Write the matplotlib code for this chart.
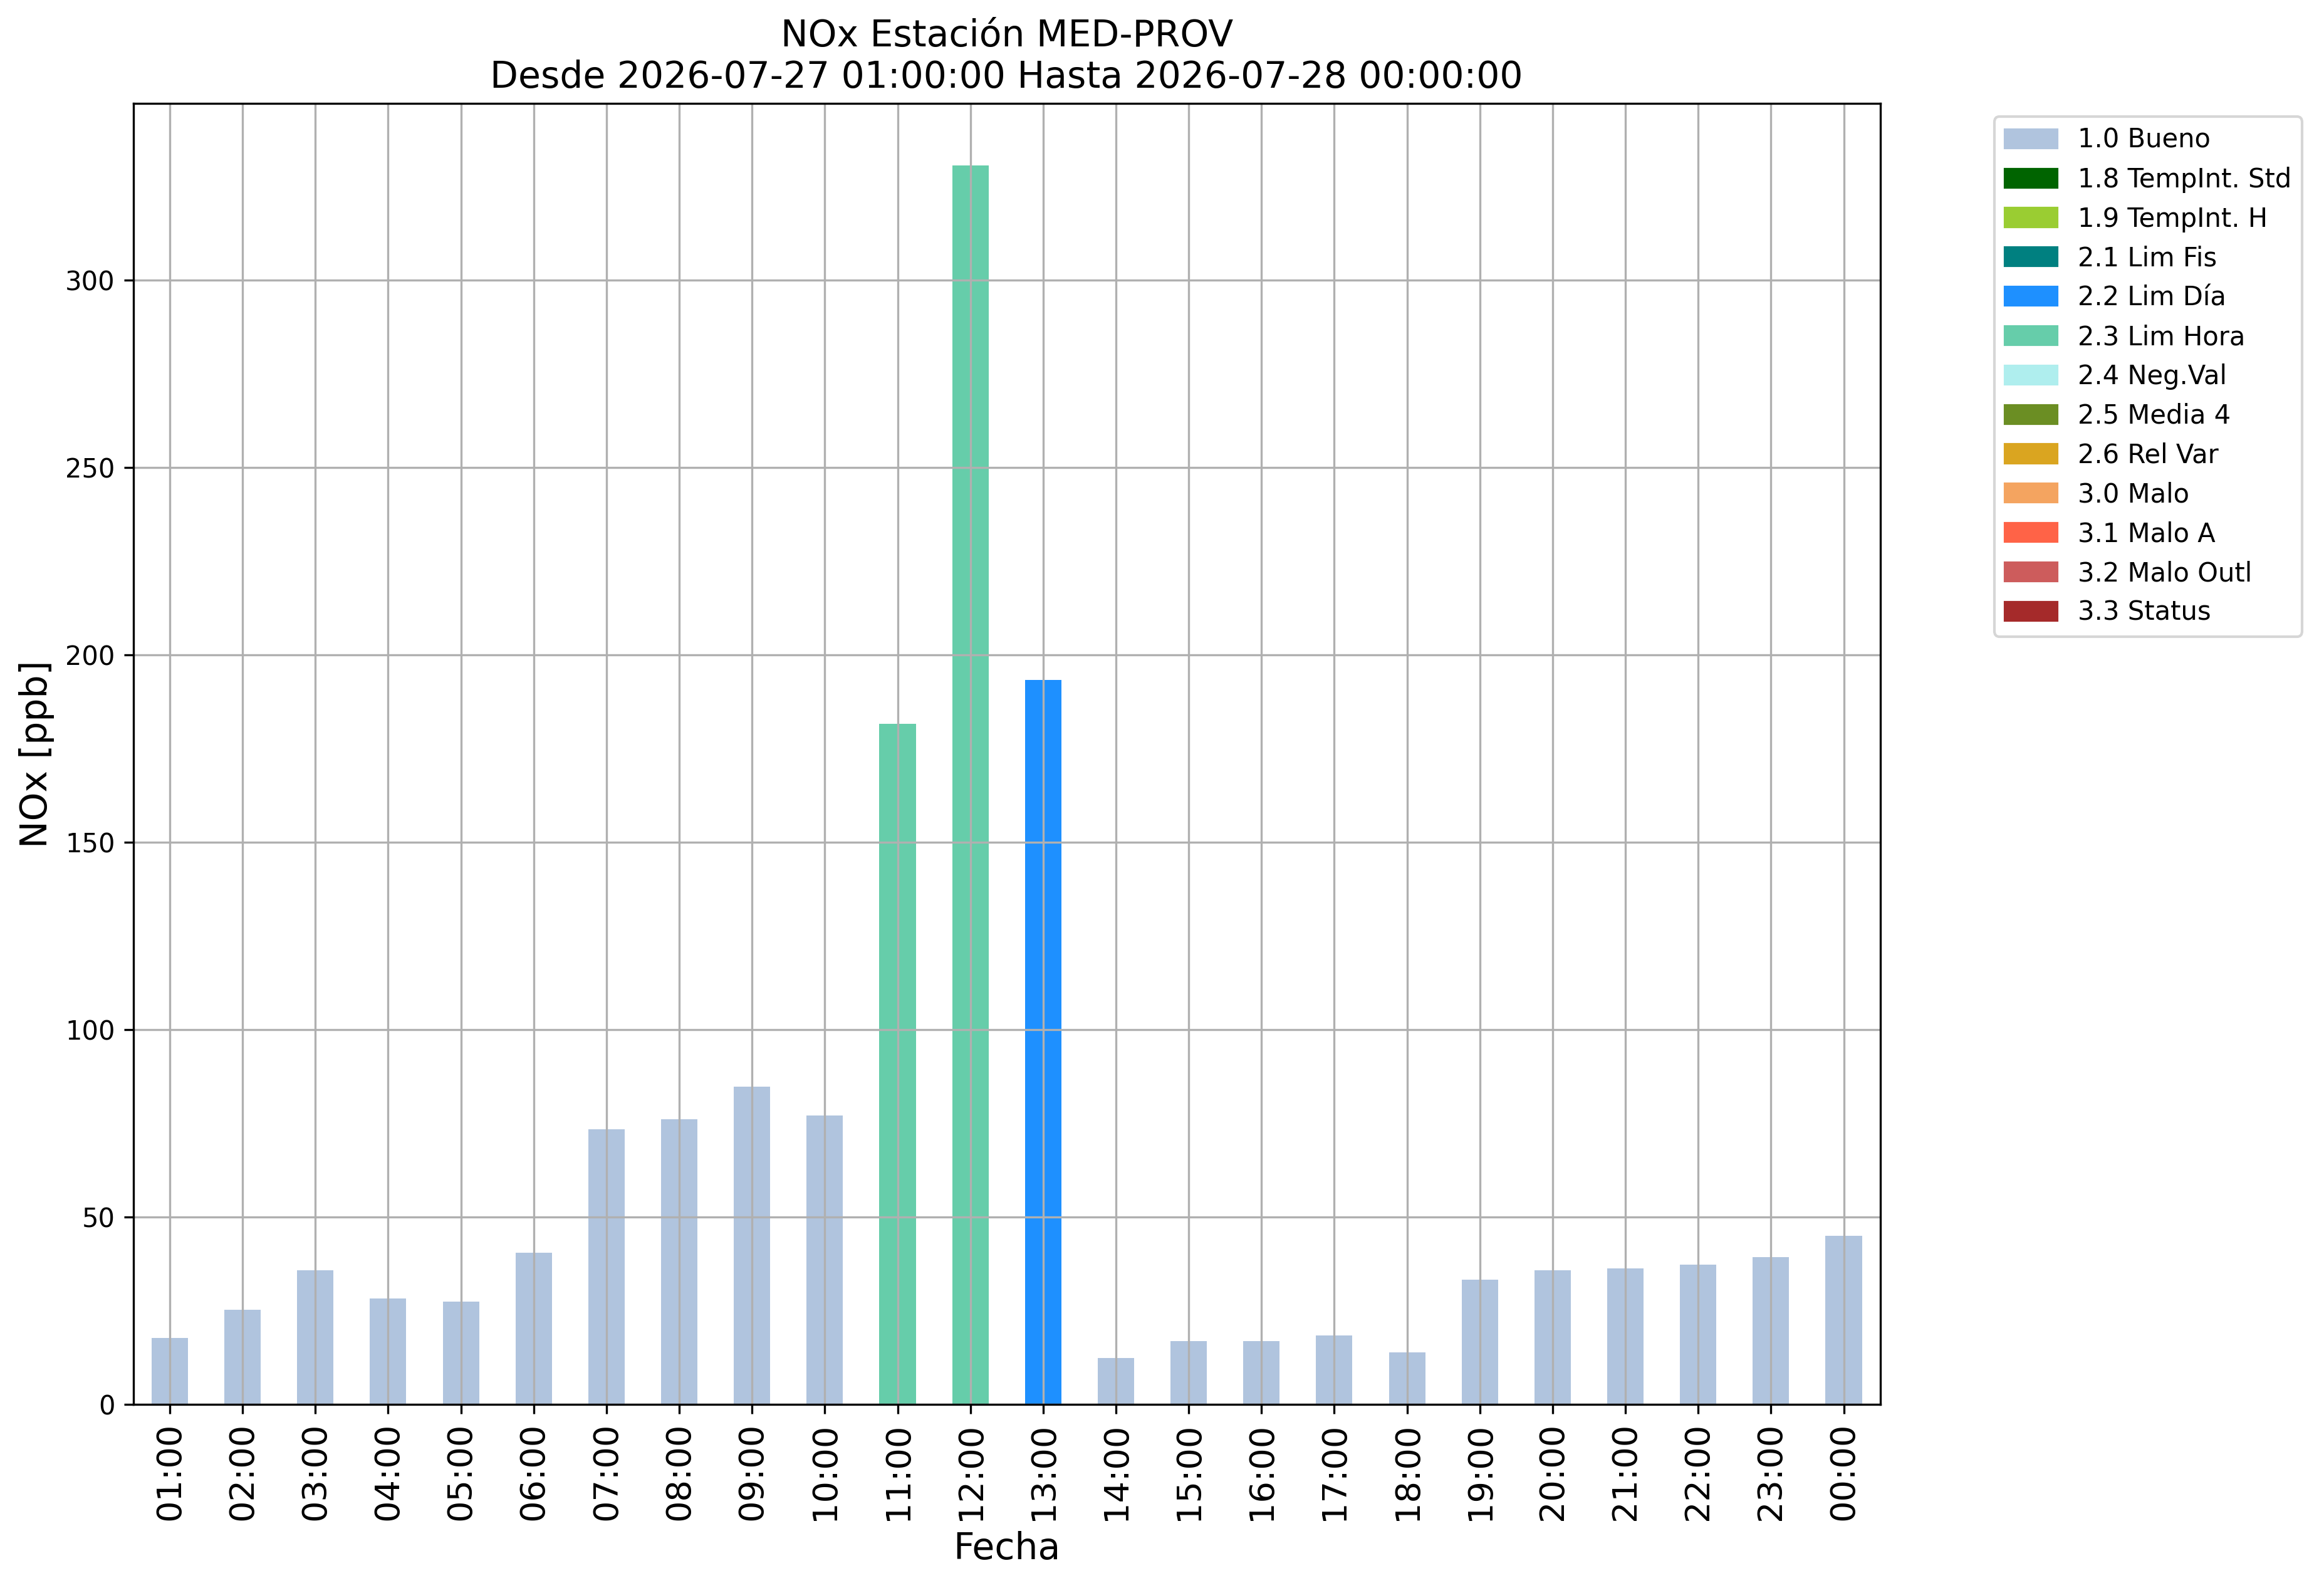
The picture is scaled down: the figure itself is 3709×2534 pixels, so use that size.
import matplotlib
matplotlib.use("Agg")
import matplotlib.pyplot as plt
import matplotlib.patches as mpatches
import numpy as np

# hourly NOx values (ppb) and the validation flag of each hour
horas = ["01:00", "02:00", "03:00", "04:00", "05:00", "06:00", "07:00", "08:00",
         "09:00", "10:00", "11:00", "12:00", "13:00", "14:00", "15:00", "16:00",
         "17:00", "18:00", "19:00", "20:00", "21:00", "22:00", "23:00", "00:00"]
nox = [17.7, 25.3, 35.7, 28.2, 27.4, 40.5, 73.3, 76.1, 84.7, 77.1, 181.6, 330.5,
       193.2, 12.3, 16.9, 16.9, 18.4, 13.8, 33.3, 35.7, 36.2, 37.2, 39.3, 44.9]
flags = ["1.0", "1.0", "1.0", "1.0", "1.0", "1.0", "1.0", "1.0", "1.0", "1.0",
         "2.3", "2.3", "2.2", "1.0", "1.0", "1.0", "1.0", "1.0", "1.0", "1.0",
         "1.0", "1.0", "1.0", "1.0"]

# flag codes, legend names and colours
codigos = ["1.0", "1.8", "1.9", "2.1", "2.2", "2.3", "2.4", "2.5", "2.6",
           "3.0", "3.1", "3.2", "3.3"]
nombres = ["Bueno", "TempInt. Std", "TempInt. H", "Lim Fis", "Lim Día", "Lim Hora",
           "Neg.Val", "Media 4", "Rel Var", "Malo", "Malo A", "Malo Outl", "Status"]
colores = ["lightsteelblue", "darkgreen", "yellowgreen", "teal", "dodgerblue",
           "mediumaquamarine", "paleturquoise", "olivedrab", "goldenrod",
           "sandybrown", "tomato", "indianred", "brown"]

DPI = 300
fig = plt.figure(figsize=(3709 / DPI, 2534 / DPI), dpi=DPI)
ax = fig.add_axes([0.0574, 0.1157, 0.7516, 0.819])

x = np.arange(len(horas))
valores = np.array(nox)
color_de = dict(zip(codigos, colores))
bar_colors = [color_de[f] for f in flags]
ax.bar(x, valores, width=0.5, color=bar_colors)

ax.set_xlim(-0.5, len(horas) - 0.5)
ax.set_xticks(x)
ax.set_xticklabels(horas, rotation=90, fontsize=13)
ax.tick_params(axis="y", labelsize=10)
ax.grid(True)

ax.set_xlabel("Fecha", fontsize=14)
ax.set_ylabel("NOx [ppb]", fontsize=14)
ax.set_title("NOx Estación MED-PROV\nDesde 2026-07-27 01:00:00 Hasta 2026-07-28 00:00:00",
             fontsize=14)

handles = [mpatches.Patch(color=c, label=f"{k} {n}")
           for k, n, c in zip(codigos, nombres, colores)]
ax.legend(handles=handles, bbox_to_anchor=(1.058, 1.0), loc="upper left", fontsize=10)

fig.savefig("out.png", dpi=DPI)
plt.close(fig)
